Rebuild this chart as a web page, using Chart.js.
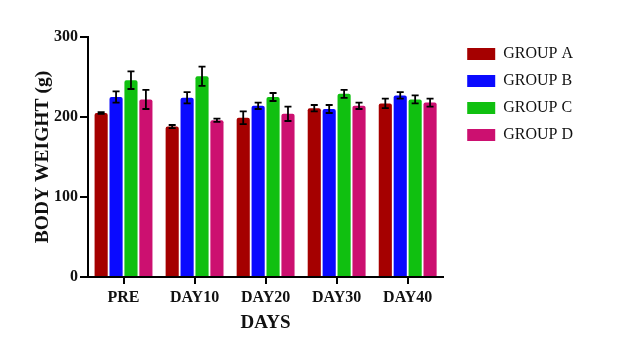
<!DOCTYPE html>
<html>
<head>
<meta charset="utf-8">
<script src="https://cdn.jsdelivr.net/npm/chart.js@4.4.1/dist/chart.umd.min.js"></script>
<style>
html,body{margin:0;padding:0;background:#fff;}
#wrap{width:617px;height:351px;}
</style>
</head>
<body>
<div id="wrap"><canvas id="c" width="617" height="351"></canvas></div>
<script>
const categories = ['PRE', 'DAY10', 'DAY20', 'DAY30', 'DAY40'];
const groupLabels = ['GROUP A', 'GROUP B', 'GROUP C', 'GROUP D'];
const groupA = [205, 188, 199, 211, 217];
const groupB = [225, 224, 214, 210, 227];
const groupC = [246, 251, 225, 229, 222];
const groupD = [222, 196, 204, 214, 218];
const errA = [1, 2, 8, 4, 6];
const errB = [7, 7, 4, 5, 4];
const errC = [11, 12, 5, 5, 5];
const errD = [12, 2, 9, 4, 5];
const yTicks = [0, 100, 200, 300];

const colors = ['#a50000', '#0a0aff', '#10c010', '#cc1070'];
const values = [groupA, groupB, groupC, groupD];
const errors = [errA, errB, errC, errD];

const FONT = "'Liberation Serif', 'Times New Roman', serif";

const errorBars = {
  id: 'errorBars',
  afterLayout(chart) {
    const lg = chart.legend;
    if (lg) {
      lg.left += 13; lg.right += 13;
      lg.top -= 2; lg.bottom -= 2;
    }
  },
  afterDatasetsDraw(chart) {
    const ctx = chart.ctx;
    const y = chart.scales.y;
    ctx.save();
    ctx.strokeStyle = '#000';
    ctx.lineWidth = 1.8;
    chart.data.datasets.forEach((ds, di) => {
      const meta = chart.getDatasetMeta(di);
      meta.data.forEach((bar, i) => {
        const v = ds.data[i], e = ds.errors[i];
        const top = y.getPixelForValue(v + e);
        const bot = y.getPixelForValue(v - e);
        const x = bar.x;
        const cap = 3.5;
        ctx.beginPath();
        ctx.moveTo(x, top); ctx.lineTo(x, bot);
        ctx.moveTo(x - cap, top); ctx.lineTo(x + cap, top);
        ctx.moveTo(x - cap, bot); ctx.lineTo(x + cap, bot);
        ctx.stroke();
      });
    });
    ctx.restore();
  }
};

new Chart(document.getElementById('c'), {
  type: 'bar',
  data: {
    labels: categories,
    datasets: groupLabels.map((g, i) => ({
      label: g,
      data: values[i],
      errors: errors[i],
      backgroundColor: colors[i],
      borderColor: colors[i],
      borderWidth: 0,
      borderRadius: {topLeft: 2, topRight: 2},
      borderSkipped: 'bottom',
      categoryPercentage: 0.84,
      barPercentage: 0.88
    }))
  },
  options: {
    responsive: false,
    animation: false,
    layout: {padding: {left: 0, right: 47, top: 37, bottom: 0}},
    plugins: {
      tooltip: {enabled: false},
      legend: {
        position: 'right',
        align: 'start',
        labels: {
          boxWidth: 28,
          boxHeight: 12,
          padding: 11,
          color: '#111',
          font: {family: FONT, size: 16}
        }
      }
    },
    scales: {
      x: {
        afterFit(s) { s.height = 74; },
        grid: {display: true, drawOnChartArea: false, drawTicks: true, tickLength: 7, color: '#000', lineWidth: 2, offset: false},
        border: {display: true, color: '#000', width: 2},
        ticks: {color: '#111', font: {family: FONT, size: 16, weight: 'bold'}, padding: 4, maxRotation: 0},
        title: {display: true, text: 'DAYS', color: '#111', font: {family: FONT, size: 19, weight: 'bold'}, padding: {top: 0, bottom: 17}}
      },
      y: {
        min: 0, max: 300,
        afterFit(s) { s.width = 88; },
        afterBuildTicks(s) { s.ticks = yTicks.map(v => ({value: v})); },
        grid: {display: true, drawOnChartArea: false, drawTicks: true, tickLength: 8, color: '#000', lineWidth: 2},
        border: {display: true, color: '#000', width: 2},
        ticks: {color: '#111', font: {family: FONT, size: 16, weight: 'bold'}, padding: 2},
        title: {display: true, text: 'BODY WEIGHT (g)', color: '#111', font: {family: FONT, size: 19.5, weight: 'bold'}, padding: {top: 31, bottom: 0}}
      }
    }
  },
  plugins: [errorBars]
});
</script>
</body>
</html>
